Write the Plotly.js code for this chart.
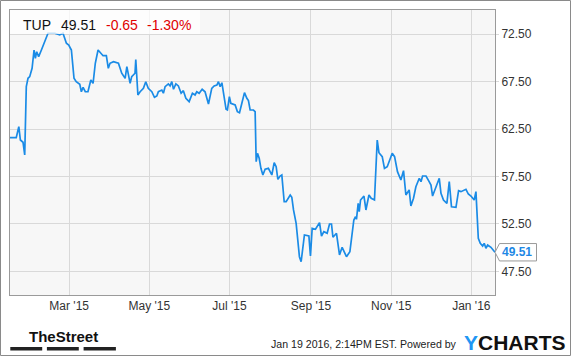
<!DOCTYPE html>
<html>
<head>
<meta charset="utf-8">
<script src="https://cdn.plot.ly/plotly-3.0.1.min.js"></script>
<style>
  html, body { margin: 0; padding: 0; background: #ffffff; }
  #chart { width: 575px; height: 358px; }
</style>
</head>
<body>
<div id="chart"></div>
<script>
// ---- data ----
const startDate = "2015-01-15";
// days since startDate
const dayOffsets = [
  0, 4.75, 6.7, 7.9, 9.9, 11.2, 12.4, 13.7, 15.0, 16.8,
  18.3, 19.3, 20.3, 21.8, 23.9, 25.9, 26.9, 28.9, 34.1, 37.8,
  40.3, 41.7, 42.9, 44.7, 46.7, 48.7, 50.4, 53.1, 54.3, 55.6,
  57.3, 59.3, 61.5, 63.2, 64.9, 67.0, 69.1, 70.8, 73.3, 74.8,
  76.1, 78.7, 82.5, 85.0, 87.6, 88.9, 91.4, 92.6, 95.1, 95.7,
  97.3, 99.0, 101.5, 103.3, 105.2, 107.9, 109.9, 111.7, 112.9, 115.5,
  116.7, 118.0, 120.5, 121.8, 123.1, 124.4, 126.2, 128.1, 130.2, 131.9,
  133.8, 136.3, 138.8, 140.8, 142.1, 143.9, 146.2, 148.4, 151.0, 153.5,
  155.3, 157.4, 158.6, 159.9, 161.2, 162.9, 164.4, 165.4, 166.9, 168.0,
  171.3, 173.0, 174.6, 176.4, 178.4, 180.2, 181.4, 182.7, 185.2, 186.5,
  187.3, 188.3, 189.6, 190.9, 192.4, 194.1, 196.6, 197.9, 199.2, 201.0,
  202.5, 203.8, 205.5, 206.8, 208.6, 210.1, 211.4, 213.2, 214.4, 215.7,
  217.7, 220.2, 221.5, 224.0, 227.4, 228.6, 229.9, 232.4, 235.5, 237.0,
  238.8, 241.3, 243.1, 244.6, 245.7, 248.4, 250.7, 252.7, 256.0, 258.6,
  261.6, 262.9, 263.6, 264.9, 265.7, 266.7, 269.3, 270.8, 273.1, 274.8,
  277.3, 279.4, 280.7, 283.2, 284.9, 287.0, 290.8, 292.6, 294.8, 297.4,
  299.4, 301.2, 303.7, 305.0, 307.0, 308.8, 311.4, 312.7, 313.9, 316.5,
  318.9, 320.3, 321.5, 323.3, 326.6, 327.9, 329.8, 332.4, 334.2, 335.9,
  339.3, 341.3, 343.1, 346.9, 348.7, 350.7, 353.2, 354.5, 356.3, 357.8,
  359.6, 360.8, 362.1, 363.4, 365.9, 369.0
];
const prices = [
  61.59, 61.59, 62.75, 61.35, 61.11, 59.77, 66.97, 67.86, 68.03, 68.91,
  70.84, 69.97, 70.66, 70.14, 70.84, 71.55, 71.90, 72.61, 72.61, 72.43,
  72.61, 72.08, 71.55, 71.37, 70.84, 67.86, 67.50, 67.23, 66.44, 66.91,
  66.44, 66.44, 67.68, 67.33, 69.44, 70.84, 70.50, 70.24, 70.24, 68.91,
  69.44, 69.61, 69.44, 68.39, 67.86, 69.08, 67.33, 68.03, 68.39, 69.84,
  66.10, 66.44, 66.80, 67.50, 66.80, 66.44, 65.85, 65.99, 66.44, 66.62,
  66.28, 66.97, 67.26, 67.05, 67.50, 66.70, 67.26, 67.05, 66.28, 66.55,
  65.75, 65.39, 66.28, 66.10, 66.44, 66.28, 66.70, 66.44, 65.15, 66.80,
  67.05, 67.15, 67.50, 66.97, 67.39, 65.92, 64.59, 64.51, 65.92, 65.22,
  65.04, 64.34, 64.23, 65.22, 66.34, 65.75, 65.50, 64.51, 64.51, 64.34,
  59.06, 59.95, 59.42, 58.36, 57.66, 58.26, 58.36, 58.01, 57.66, 58.95,
  58.53, 57.20, 57.55, 57.66, 54.84, 54.84, 55.20, 55.55, 55.31, 53.97,
  52.56, 49.04, 48.51, 51.33, 51.22, 49.11, 52.03, 51.93, 52.63, 51.22,
  51.68, 51.51, 52.49, 52.49, 51.09, 51.51, 49.22, 50.03, 49.04, 49.57,
  52.91, 53.26, 52.98, 54.67, 53.79, 55.02, 55.44, 53.97, 55.55, 55.20,
  55.02, 61.35, 60.01, 59.59, 58.36, 58.53, 59.95, 59.59, 58.01, 57.13,
  58.11, 55.55, 56.08, 54.39, 55.20, 56.42, 57.31, 56.95, 57.55, 57.55,
  56.95, 56.60, 55.44, 56.15, 57.31, 55.73, 55.02, 54.67, 56.95, 54.31,
  54.25, 56.00, 55.90, 56.15, 55.65, 55.44, 55.02, 55.90, 50.98, 50.45,
  50.17, 50.45, 49.93, 50.27, 50.03, 49.51
];
const ticker = "TUP";
const lastPrice = "49.51";
const change = "-0.65";
const changePct = "-1.30%";
const xRange = ["2015-01-15", "2016-01-19"];
const yTicks = [47.5, 52.5, 57.5, 62.5, 67.5, 72.5];
const footerText = "Jan 19 2016, 2:14PM EST. Powered by";

// ---- build ----
const base = Date.parse(startDate + "T00:00:00Z");
const dates = dayOffsets.map(d => new Date(base + d * 86400000).toISOString().replace("T", " ").slice(0, 19));
const lastVal = prices[prices.length - 1];

const FONT = 'Arial, "Liberation Sans", sans-serif';
const BLUE = "#1a8be6";

const W = 575, H = 358, L = 10, R = 80, T = 10, B = 63;
const pw = W - L - R, ph = H - T - B;
const xp = px => (px - L) / pw;
const yp = py => (H - B - py) / ph;

const trace = {
  x: dates, y: prices, type: "scatter", mode: "lines",
  line: { color: BLUE, width: 1.7 }, hoverinfo: "skip", showlegend: false
};

const shapes = [
  // outer frame
  { type: "rect", xref: "paper", yref: "paper", x0: xp(0.5), x1: xp(570.5), y0: yp(355.5), y1: yp(0.5),
    line: { color: "#8a8a8a", width: 1 }, fillcolor: "rgba(0,0,0,0)", layer: "below" },
  // header box
  { type: "rect", xref: "paper", yref: "paper", x0: 0, x1: xp(200), y0: yp(34), y1: 1,
    line: { width: 0 }, fillcolor: "rgba(255,255,255,0.72)", layer: "above" },
  // last value label box with pointer
  { type: "path", xref: "paper", yref: "y", xsizemode: "pixel", ysizemode: "pixel",
    xanchor: 1, yanchor: lastVal,
    path: "M0,0 L4.5,8.7 L41.5,8.7 L41.5,-8.7 L4.5,-8.7 Z",
    fillcolor: "#ffffff", line: { color: "#9a9a9a", width: 1 }, layer: "above" },
  // TheStreet bars
  { type: "rect", xref: "paper", yref: "paper", x0: xp(10.3), x1: xp(42.2), y0: yp(350.5), y1: yp(347),
    fillcolor: "#222", line: { width: 0 } },
  { type: "rect", xref: "paper", yref: "paper", x0: xp(46.9), x1: xp(78.8), y0: yp(350.5), y1: yp(347),
    fillcolor: "#222", line: { width: 0 } },
  { type: "rect", xref: "paper", yref: "paper", x0: xp(83.6), x1: xp(115.9), y0: yp(350.5), y1: yp(347),
    fillcolor: "#222", line: { width: 0 } }
];

const ann = (text, x, y, opts) => Object.assign({
  text: text, x: x, y: y, xref: "paper", yref: "paper", showarrow: false,
  xanchor: "left", yanchor: "middle", font: { family: FONT, size: 14, color: "#111" }
}, opts || {});

const annotations = [
  ann(ticker, xp(21), yp(24.5)),
  ann(lastPrice, xp(59), yp(24.5)),
  ann(change, xp(104), yp(24.5), { font: { family: FONT, size: 14, color: "#e00000" } }),
  ann(changePct, xp(145), yp(24.5), { font: { family: FONT, size: 14, color: "#e00000" } }),
  // last value label
  { text: "<b>" + lastVal.toFixed(2) + "</b>", x: 1, y: lastVal, xref: "paper", yref: "y",
    xanchor: "left", yanchor: "middle", xshift: 5, showarrow: false,
    font: { family: FONT, size: 12, color: "#1e88e5" } },
  // footer
  ann("<b>TheStreet</b>", xp(63), yp(336), { xanchor: "center",
    font: { family: '"Liberation Sans Narrow", "Arial Narrow", Arial, sans-serif', size: 15, color: "#111" } }),
  ann(footerText, xp(459), yp(344), { xanchor: "right", font: { family: FONT, size: 10.6, color: "#222" } }),
  ann("<b><span style='color:#2196f3'>Y</span>CHARTS</b>", xp(462), yp(342),
    { font: { family: FONT, size: 21, color: "#111" } })
];

const layout = {
  width: W, height: H,
  margin: { l: L, r: R, t: T, b: B, pad: 0 },
  paper_bgcolor: "#ffffff", plot_bgcolor: "#f7f7f7",
  font: { family: FONT, size: 12, color: "#333" },
  showlegend: false,
  xaxis: {
    type: "date", range: xRange, dtick: "M2", tick0: "2015-03-01", tickformat: "%b '%y",
    showgrid: true, gridcolor: "#d9d9d9", gridwidth: 1,
    showline: true, mirror: true, linecolor: "#9a9a9a", linewidth: 1,
    ticks: "", tickfont: { family: FONT, size: 12, color: "#333" }, zeroline: false, fixedrange: true
  },
  yaxis: {
    side: "right", range: [45, 75.06], tickvals: yTicks, tickformat: ".2f",
    showgrid: true, gridcolor: "#d9d9d9", gridwidth: 1,
    showline: true, mirror: true, linecolor: "#9a9a9a", linewidth: 1,
    ticks: "outside", ticklen: 3, tickcolor: "#d9d9d9",
    tickfont: { family: FONT, size: 12, color: "#333" }, zeroline: false, fixedrange: true
  },
  shapes: shapes,
  annotations: annotations
};

Plotly.newPlot("chart", [trace], layout, { displayModeBar: false, staticPlot: true });
</script>
</body>
</html>
